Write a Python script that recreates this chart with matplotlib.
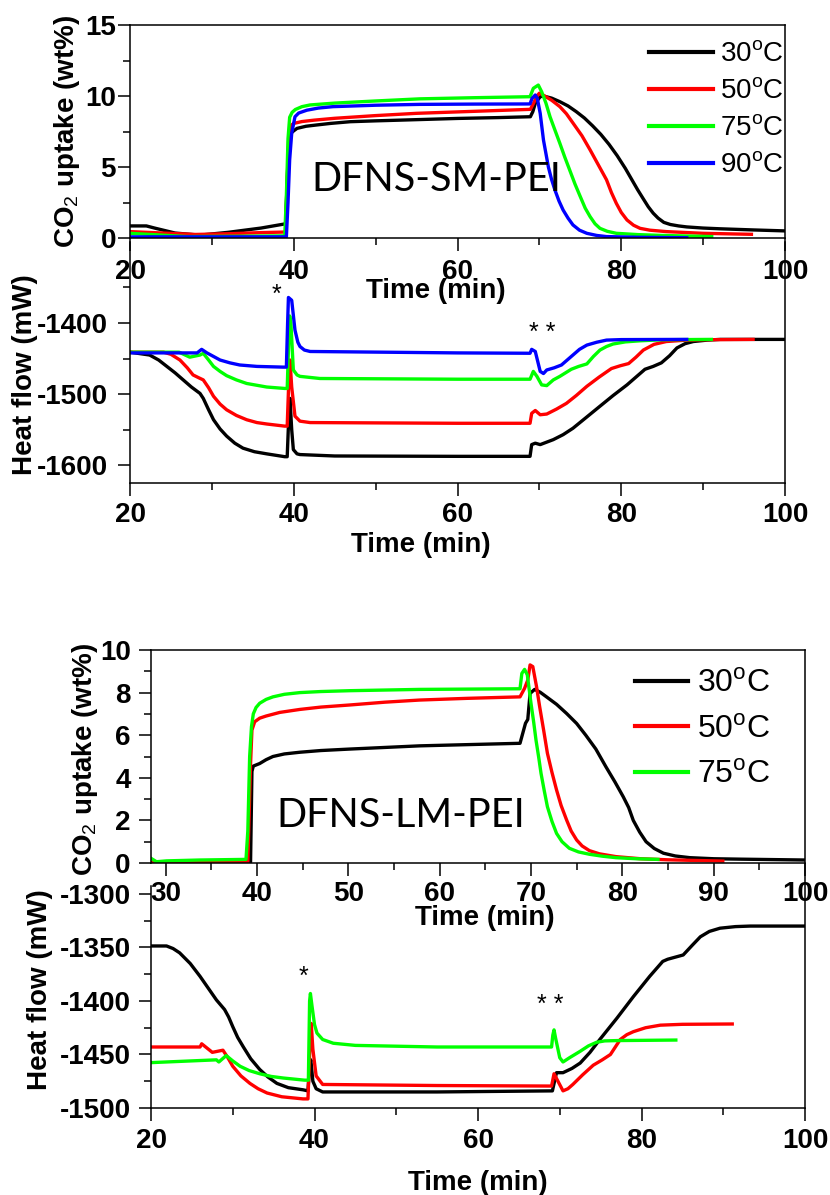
import matplotlib
matplotlib.use("Agg")
import matplotlib.pyplot as plt
from matplotlib.ticker import MultipleLocator

plt.rcParams["font.family"] = ["Liberation Sans", "DejaVu Sans"]
plt.rcParams["mathtext.fontset"] = "custom"
plt.rcParams["mathtext.rm"] = "Liberation Sans"
plt.rcParams["mathtext.bf"] = "Liberation Sans:bold"
plt.rcParams["axes.unicode_minus"] = False

COLORS = {"30": "#000000", "50": "#ff0000", "75": "#00ff00", "90": "#0000ff"}

# ---- DFNS-SM-PEI : CO2 uptake (wt%) ----
sm_up_t30 = [20, 22, 23, 25.5, 28.5, 32, 36, 39.0, 39.2, 39.4, 39.6, 40.0, 40.4, 41.5, 42.8, 44.5, 46.9,
             50, 53, 60, 65, 68.9, 69.2, 69.5, 70.1, 70.5, 71.5, 72.5, 73.5, 74.5, 75.5, 76.5, 77.5,
             78.5, 79.5, 80.5, 81.3, 82, 82.7, 83.3, 83.9, 84.5, 85.2, 86, 87, 88, 90, 92, 96, 100]
sm_up_v30 = [0.85, 0.85, 0.7, 0.35, 0.2, 0.4, 0.7, 1.0, 4.0, 6.8, 7.35, 7.55, 7.72, 7.87, 7.96, 8.07,
             8.19, 8.25, 8.3, 8.42, 8.48, 8.54, 8.9, 9.48, 9.95, 10.0, 9.85, 9.6, 9.3, 8.9, 8.45, 7.9,
             7.3, 6.6, 5.8, 4.9, 4.1, 3.4, 2.75, 2.2, 1.75, 1.4, 1.1, 0.95, 0.85, 0.78, 0.7, 0.65,
             0.57, 0.5]
sm_up_t50 = [20, 24, 28, 32, 36, 39.0, 39.2, 39.4, 39.7, 40, 41, 42.5, 45, 50, 55, 62, 68.9, 69.3,
             69.7, 70.0, 70.5, 71.5, 72.5, 73.3, 74.1, 75.2, 76.2, 77.2, 78.2, 78.8, 79.4, 80.0, 80.7,
             81.5, 82.3, 83.5, 85.5, 90, 95.9]
sm_up_v50 = [0.45, 0.35, 0.25, 0.3, 0.38, 0.42, 4.0, 7.3, 7.95, 8.07, 8.2, 8.3, 8.43, 8.62, 8.78, 8.92,
             9.06, 9.5, 10.0, 10.2, 10.05, 9.7, 9.25, 8.75, 8.1, 7.2, 6.2, 5.15, 4.1, 3.2, 2.44, 1.8,
             1.27, 0.9, 0.68, 0.55, 0.45, 0.33, 0.26]
sm_up_t75 = [20, 24, 27, 32, 38.9, 39.1, 39.3, 39.5, 39.8, 40.2, 41, 42, 45, 50, 55.4, 62, 68.86,
             69.26, 69.87, 70.28, 70.8, 71.3, 71.9, 72.5, 73.1, 73.7, 74.35, 75.0, 75.6, 76.2, 76.8,
             77.4, 78.3, 79.4, 82, 85, 91.05]
sm_up_v75 = [0.33, 0.2, 0.1, 0.12, 0.15, 3.0, 7.0, 8.5, 8.85, 9.05, 9.25, 9.37, 9.5, 9.65, 9.8, 9.88,
             9.95, 10.54, 10.77, 10.3, 9.5, 8.54, 7.6, 6.67, 5.7, 4.79, 3.8, 2.91, 2.1, 1.5, 1.0,
             0.68, 0.47, 0.33, 0.24, 0.18, 0.1]
sm_up_t90 = [20, 30, 39.1, 39.3, 39.5, 39.75, 40.15, 40.6, 41.6, 43, 44.8, 50, 55.4, 62, 68.86, 69.1,
             69.5, 69.75, 70.1, 70.5, 71.1, 71.5, 71.9, 72.4, 72.9, 73.5, 74.1, 74.9, 75.8, 77, 78.2,
             82, 88.0]
sm_up_v90 = [0.08, 0.08, 0.08, 2.5, 5.5, 7.37, 8.54, 8.8, 9.0, 9.15, 9.25, 9.35, 9.41, 9.43, 9.44,
             9.83, 10.07, 9.83, 8.78, 6.9, 5.0, 4.1, 3.38, 2.6, 1.97, 1.4, 0.92, 0.55, 0.33, 0.18,
             0.1, 0.05, 0.02]

# ---- DFNS-SM-PEI : heat flow (mW) ----
sm_hf_t30 = [20, 22.4, 23.5, 24.5, 25.5, 26.5, 27.5, 28.55, 28.95, 29.6, 30.2, 31.0, 31.8, 32.8,
             33.8, 35.2, 36.7, 38.9, 39.2, 39.4, 39.54, 39.75, 39.95, 40.4, 40.76, 45, 60, 68.86,
             69.06, 69.5, 70.1, 71.7, 72.9, 74.1, 75.7, 77.4, 79, 80.7, 82, 82.9, 83.9, 84.9, 85.9,
             86.8, 87.8, 88.8, 90.5, 92.1, 100]
sm_hf_v30 = [-1441, -1445, -1452, -1461, -1470, -1480, -1490, -1499, -1506, -1522, -1536, -1549, -1559,
             -1569, -1576, -1581, -1584, -1588, -1588, -1530, -1506, -1550, -1578, -1584, -1585, -1587,
             -1587.5, -1587.5, -1571, -1569, -1571, -1564, -1557, -1548, -1533, -1517, -1502, -1487,
             -1474, -1465, -1461, -1456, -1446, -1435, -1429, -1426, -1424, -1423, -1423]
sm_hf_t50 = [20, 24.1, 25, 26.1, 27, 27.7, 28.4, 28.95, 29.6, 30.2, 31.0, 31.8, 33, 34.25, 35.5, 36.7,
             38.9, 39.2, 39.4, 39.54, 39.75, 40.15, 40.76, 42, 60, 68.86, 69.06, 69.5, 70.1, 70.9,
             72.1, 73.3, 74.5, 75.8, 77.3, 78.8, 79.9, 80.9, 81.8, 82.7, 84, 85.5, 88, 90, 96.1]
sm_hf_v50 = [-1441, -1441, -1444, -1452, -1463, -1473, -1477, -1480, -1491, -1503, -1514, -1522, -1530,
             -1536, -1540, -1542, -1545, -1545, -1480, -1452, -1490, -1531, -1538, -1540, -1541, -1541,
             -1527, -1523, -1529, -1528, -1521, -1513, -1502, -1489, -1476, -1464, -1460, -1457,
             -1448, -1438, -1430, -1426, -1424, -1423.5, -1423]
sm_hf_t75 = [20, 26, 27.3, 28.55, 28.95, 29.6, 30.2, 31, 31.8, 33, 34.25, 36.7, 38.9, 39.2, 39.4, 39.5,
             39.65, 39.95, 40.4, 40.76, 43.2, 60, 68.86, 69.26, 69.7, 70.28, 70.9, 71.7, 72.5, 73.9,
             74.8, 75.8, 76.6, 77.4, 78.2, 79.0, 80.5, 82.3, 85, 91.0]
sm_hf_v75 = [-1441, -1441, -1448, -1445, -1442.6, -1452, -1461, -1468, -1474, -1480, -1485, -1490, -1492,
             -1492, -1420, -1390, -1400, -1466, -1473, -1475, -1478, -1479, -1479, -1468, -1475, -1487,
             -1488, -1480, -1475, -1465, -1461, -1457.5, -1447, -1438, -1433, -1429.5, -1426.5, -1425,
             -1423.5, -1423]
sm_hf_t90 = [20, 28.2, 28.75, 29.4, 30.2, 31.0, 32.2, 33.4, 35.5, 38.7, 39.1, 39.25, 39.35, 39.75,
             40.15, 40.5, 40.76, 41.3, 42, 60, 68.86, 69.06, 69.5, 70.1, 70.5, 70.9, 71.8, 72.7, 73.4,
             74.1, 74.9, 75.8, 77, 78.2, 80, 88.0]
sm_hf_v90 = [-1442, -1442, -1437, -1442, -1447, -1452, -1456, -1459, -1461, -1462, -1462, -1400, -1364,
             -1368, -1410, -1427, -1433, -1438, -1440, -1442, -1442.5, -1437, -1440, -1468, -1471, -1466,
             -1463, -1459, -1452, -1445, -1437, -1431, -1427, -1424, -1423.3, -1423]

# ---- DFNS-LM-PEI : CO2 uptake (wt%) ----
lm_up_t30 = [28.4, 39.3, 39.45, 39.6, 40.3, 41.0, 41.75, 43, 44.7, 47, 50.2, 57.8, 68.8, 69.1, 69.4,
             69.65, 69.9, 70.4, 71.0, 71.7, 72.8, 73.9, 75.0, 76.0, 77.1, 78.2, 79.2, 80.1, 80.7, 81.2,
             81.9, 82.6, 83.5, 84.5, 85.8, 87.4, 90, 93, 100]
lm_up_v30 = [0.02, 0.05, 4.3, 4.55, 4.67, 4.85, 5.0, 5.12, 5.2, 5.28, 5.35, 5.5, 5.62, 6.09, 6.56, 6.74,
             7.96, 8.15, 8.02, 7.8, 7.45, 7.02, 6.55, 6.0, 5.35, 4.52, 3.8, 3.11, 2.6, 2.0, 1.45, 1.0,
             0.68, 0.46, 0.33, 0.25, 0.2, 0.18, 0.14]
lm_up_t50 = [28.4, 39.0, 39.3, 39.45, 39.75, 40.3, 41.0, 42.5, 44.7, 47, 50.2, 54, 57.8, 63, 68.8, 69.3,
             69.65, 69.9, 70.2, 70.6, 70.95, 71.4, 71.8, 72.3, 72.8, 73.3, 73.9, 74.4, 75.0, 75.6, 76.4,
             77.5, 79.3, 82, 85, 91.0]
lm_up_v50 = [0.02, 0.03, 4.67, 6.24, 6.63, 6.8, 6.9, 7.07, 7.21, 7.32, 7.42, 7.55, 7.65, 7.73, 7.8, 8.2,
             8.59, 9.3, 9.22, 8.3, 7.34, 6.2, 5.15, 4.25, 3.43, 2.7, 2.02, 1.5, 1.08, 0.8, 0.58, 0.43,
             0.3, 0.2, 0.15, 0.09]
lm_up_t75 = [28.4, 29.0, 30.1, 33.7, 38.8, 39.0, 39.2, 39.4, 39.6, 39.9, 40.3, 41, 41.75, 43, 44.7, 47,
             50.2, 57.8, 68.8, 69.0, 69.3, 69.6, 70.0, 70.3, 70.55, 70.85, 71.1, 71.45, 71.8, 72.3,
             72.8, 73.4, 74.2, 75.2, 76.4, 77.8, 79.3, 81.5, 83.9]
lm_up_v75 = [0.22, 0.06, 0.1, 0.14, 0.17, 1.5, 5.0, 6.4, 7.0, 7.3, 7.5, 7.68, 7.8, 7.92, 8.0, 8.05,
             8.09, 8.15, 8.18, 8.9, 9.09, 8.83, 7.5, 6.6, 5.77, 4.95, 4.21, 3.4, 2.64, 1.95, 1.39, 1.0,
             0.69, 0.52, 0.41, 0.32, 0.25, 0.2, 0.17]

# ---- DFNS-LM-PEI : heat flow (mW) ----
lm_hf_t30 = [20, 21.9, 22.7, 23.5, 24.8, 26, 27, 28, 29, 29.5, 30, 30.6, 31.3, 32.2, 33.3, 34.3, 35.4,
             36.8, 38.6, 39.2, 39.4, 39.55, 39.8, 40.2, 41, 55, 69.1, 69.6, 70.4, 71.5, 72.5, 73.7,
             74.9, 77, 79, 81, 82.6, 83.2, 85.1, 86.2, 87.2, 88.3, 89.6, 91.5, 93.3, 100]
lm_hf_v30 = [-1348.6, -1348.6, -1351, -1355, -1365, -1377, -1388, -1399, -1408, -1415, -1424, -1434,
             -1443, -1454, -1464, -1471, -1477, -1481, -1483, -1484, -1460, -1455, -1475, -1482, -1485,
             -1485, -1484, -1467, -1467, -1463, -1458, -1448, -1436, -1416, -1396, -1377, -1363, -1361,
             -1357, -1348, -1340, -1335, -1332, -1330.5, -1330, -1330]
lm_hf_t50 = [20, 26.0, 26.2, 27.5, 28.8, 29.4, 30, 31, 32.1, 33.1, 34.2, 36, 38.6, 39.2, 39.45, 39.6,
             39.8, 40.2, 41, 55, 69.0, 69.3, 70.4, 71.0, 71.6, 72.8, 74.1, 75.2, 76.2, 76.8, 77.4, 78.2,
             79, 80.5, 82.3, 85, 91.1]
lm_hf_v50 = [-1443, -1443, -1440, -1448, -1446, -1453, -1461, -1470, -1477, -1482, -1486, -1489.5,
             -1491.5, -1491.5, -1440, -1421, -1445, -1470, -1478, -1479, -1479.5, -1468, -1484, -1482,
             -1478, -1469, -1460, -1455, -1450, -1443, -1436, -1431.5, -1428.7, -1425, -1422.6,
             -1421.8, -1421.5]
lm_hf_t75 = [20, 28, 28.3, 29.2, 30, 30.9, 32, 33.3, 34.7, 36.2, 38.8, 39.25, 39.4, 39.5, 39.7, 40.0,
             40.3, 41, 42.3, 45, 55, 69.0, 69.15, 69.3, 69.5, 70.0, 70.4, 71.2, 72.5, 73.5, 74.5, 75.5,
             77, 84.2]
lm_hf_v75 = [-1457.6, -1455, -1457, -1451, -1456, -1461, -1465, -1468, -1470.5, -1472, -1474, -1474,
             -1400, -1393, -1405, -1422, -1430, -1436, -1439.5, -1441.5, -1443, -1443, -1432, -1427,
             -1435, -1453, -1457, -1453, -1447, -1442, -1438.6, -1437.3, -1437, -1436.5]

LEGEND_SM = ["30", "50", "75", "90"]
LEGEND_LM = ["30", "50", "75"]

W, H = 830, 1195
fig = plt.figure(figsize=(W / 100, H / 100), dpi=100)


def px_axes(left, top, right, bottom):
    return fig.add_axes([left / W, 1 - bottom / H, (right - left) / W, (bottom - top) / H],
                        facecolor="none")


def style(ax, ypad, xpad):
    for s in ax.spines.values():
        s.set_linewidth(1.1)
    ax.tick_params(which="both", direction="out", top=False, right=False, width=1.1)
    ax.tick_params(which="major", length=9)
    ax.tick_params(which="minor", length=5)
    ax.tick_params(axis="y", pad=ypad, labelsize=20)
    ax.tick_params(axis="x", pad=xpad, labelsize=20)
    for lab in ax.get_xticklabels() + ax.get_yticklabels():
        lab.set_fontweight("bold")


def label_font(ax, xlabel, ylabel, xpos, ypos):
    ax.set_xlabel(xlabel, fontsize=20, fontweight="bold")
    ax.set_ylabel(ylabel, fontsize=20, fontweight="bold")
    ax.xaxis.set_label_coords(*xpos)
    ax.yaxis.set_label_coords(*ypos)


lw = 2.4
co2_label = r"CO$_\mathrm{2}$ uptake (wt%)"

# panel 1
ax1 = px_axes(130, 25, 785, 238)
for k, t, v in [("30", sm_up_t30, sm_up_v30), ("50", sm_up_t50, sm_up_v50),
                ("75", sm_up_t75, sm_up_v75), ("90", sm_up_t90, sm_up_v90)]:
    ax1.plot(t, v, color=COLORS[k], lw=lw, label=k + r"$^\mathrm{o}$C")
ax1.set_xlim(20, 100)
ax1.set_ylim(0, 15)
ax1.xaxis.set_major_locator(MultipleLocator(20))
ax1.xaxis.set_minor_locator(MultipleLocator(10))
ax1.yaxis.set_major_locator(MultipleLocator(5))
ax1.yaxis.set_minor_locator(MultipleLocator(2.5))
style(ax1, ypad=1, xpad=6)
label_font(ax1, "Time (min)", co2_label, (0.467, -0.19), (-0.073, 0.5))
ax1.text(57.4, 4.1, "DFNS-SM-PEI", fontsize=28.5, family="Lato", ha="center", va="center")
leg = ax1.legend(loc="upper left", bbox_to_anchor=(0.792, 0.92), frameon=False, fontsize=20,
                 handlelength=2.3, handletextpad=0.27, labelspacing=0.39, borderpad=0, borderaxespad=0)
for h in leg.get_lines():
    h.set_linewidth(3)

# panel 2
ax2 = px_axes(130, 242, 785, 483)
for k, t, v in [("30", sm_hf_t30, sm_hf_v30), ("50", sm_hf_t50, sm_hf_v50),
                ("75", sm_hf_t75, sm_hf_v75), ("90", sm_hf_t90, sm_hf_v90)]:
    ax2.plot(t, v, color=COLORS[k], lw=lw)
ax2.set_xlim(20, 100)
ax2.set_ylim(-1625, -1286)
ax2.set_yticks([-1600, -1500, -1400])
ax2.set_yticks([-1550, -1450, -1350], minor=True)
ax2.xaxis.set_major_locator(MultipleLocator(20))
ax2.xaxis.set_minor_locator(MultipleLocator(10))
ax2.spines["top"].set_visible(False)
style(ax2, ypad=7, xpad=5)
label_font(ax2, "Time (min)", "Heat flow (mW)", (0.444, -0.205), (-0.14, 0.448))
ax2.text(37.95, -1360, "*", fontsize=18, ha="center", va="center")
ax2.text(70.4, -1414, "* *", fontsize=18, ha="center", va="center")

# panel 3
ax3 = px_axes(151, 650, 805, 863)
for k, t, v in [("30", lm_up_t30, lm_up_v30), ("50", lm_up_t50, lm_up_v50),
                ("75", lm_up_t75, lm_up_v75)]:
    ax3.plot(t, v, color=COLORS[k], lw=lw, label=k + r"$^\mathrm{o}$C")
ax3.set_xlim(28.4, 100)
ax3.set_ylim(0, 10)
ax3.xaxis.set_major_locator(MultipleLocator(10))
ax3.xaxis.set_minor_locator(MultipleLocator(5))
ax3.yaxis.set_major_locator(MultipleLocator(2))
ax3.yaxis.set_minor_locator(MultipleLocator(1))
style(ax3, ypad=5.5, xpad=4)
label_font(ax3, "Time (min)", co2_label, (0.51, -0.195), (-0.078, 0.484))
ax3.text(55.7, 2.25, "DFNS-LM-PEI", fontsize=28.5, family="Lato", ha="center", va="center")
leg = ax3.legend(loc="upper left", bbox_to_anchor=(0.740, 0.911), frameon=False, fontsize=23,
                 handlelength=1.66, handletextpad=0.28, labelspacing=0.49, borderpad=0, borderaxespad=0)
for h in leg.get_lines():
    h.set_linewidth(3)

# panel 4
ax4 = px_axes(151, 864, 805, 1108)
for k, t, v in [("30", lm_hf_t30, lm_hf_v30), ("50", lm_hf_t50, lm_hf_v50),
                ("75", lm_hf_t75, lm_hf_v75)]:
    ax4.plot(t, v, color=COLORS[k], lw=lw)
ax4.set_xlim(20, 100)
ax4.set_ylim(-1500, -1272)
ax4.set_yticks([-1500, -1450, -1400, -1350, -1300])
ax4.set_yticks([-1475, -1425, -1375, -1325], minor=True)
ax4.xaxis.set_major_locator(MultipleLocator(20))
ax4.xaxis.set_minor_locator(MultipleLocator(10))
ax4.spines["top"].set_visible(False)
ax4.spines["left"].set_bounds(-1500, -1293)
style(ax4, ypad=5.5, xpad=5.5)
label_font(ax4, "Time (min)", "Heat flow (mW)", (0.499, -0.254), (-0.15, 0.484))
ax4.text(38.6, -1377.6, "*", fontsize=18, ha="center", va="center")
ax4.text(68.8, -1403.7, "* *", fontsize=18, ha="center", va="center")

fig.savefig("out.png", dpi=100)
